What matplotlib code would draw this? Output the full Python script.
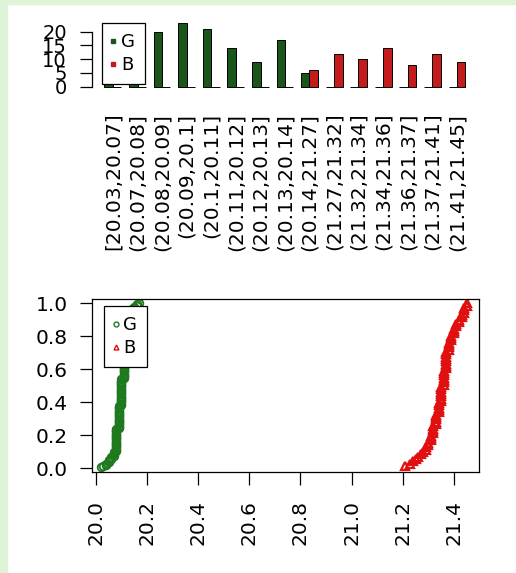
import numpy as np
import matplotlib
matplotlib.use("Agg")
import matplotlib.pyplot as plt
from matplotlib.lines import Line2D
from matplotlib.patches import Rectangle

# bin labels and counts per group (top barplot)
bins = ["[20.03,20.07]", "(20.07,20.08]", "(20.08,20.09]", "(20.09,20.1]",
        "(20.1,20.11]", "(20.11,20.12]", "(20.12,20.13]", "(20.13,20.14]",
        "(20.14,21.27]", "(21.27,21.32]", "(21.32,21.34]", "(21.34,21.36]",
        "(21.36,21.37]", "(21.37,21.41]", "(21.41,21.45]"]
g_counts = [14, 20, 20, 23, 21, 14, 9, 17, 5, 0, 0, 0, 0, 0, 0]
b_counts = [0, 0, 0, 0, 0, 0, 0, 0, 6, 12, 10, 14, 8, 12, 9]

# observed values (frequency tables) for the ecdf panel
g_vals = [20.02, 20.03, 20.04, 20.05, 20.06, 20.07, 20.08, 20.09, 20.10,
          20.11, 20.12, 20.13, 20.14, 20.15, 20.16, 20.17]
g_freq = [1, 1, 2, 3, 3, 4, 20, 20, 23, 21, 14, 9, 17, 2, 2, 1]
b_vals = [21.21, 21.23, 21.24, 21.25, 21.26, 21.27, 21.28, 21.29, 21.30,
          21.31, 21.32, 21.33, 21.34, 21.35, 21.36, 21.37, 21.38, 21.39,
          21.40, 21.41, 21.42, 21.43, 21.44, 21.45]
b_freq = [1, 1, 1, 1, 1, 1, 1, 2, 2, 3, 4, 5, 5, 7, 7, 8, 4, 3, 3, 2, 2, 2, 3, 2]

x_ticks = [20.0, 20.2, 20.4, 20.6, 20.8, 21.0, 21.2, 21.4]
y_ticks = [0.0, 0.2, 0.4, 0.6, 0.8, 1.0]

green_bar = "#1a561a"
red_bar = "#c41c1c"
green_pt = "#1f7a1f"
red_pt = "#e01010"
W, H = 516, 573

plt.rcParams['font.family'] = ['DejaVu Sans']

fig = plt.figure(figsize=(W / 100, H / 100), dpi=100)
# light green page border (left and top)
fig.patches.append(Rectangle((0, 0), 7 / W, 1, transform=fig.transFigure,
                             color="#ddf4d6", zorder=0))
fig.patches.append(Rectangle((0, 1 - 4 / H), 1, 4 / H, transform=fig.transFigure,
                             color="#ddf4d6", zorder=0))

# ---- top: side by side barplot
ax1 = fig.add_axes([92 / W, 1 - 86.7 / H, 388 / W, 63.7 / H])
grp = np.arange(len(bins)) * 3 + 2
ax1.bar(grp - 0.5, g_counts, width=1.05, color=green_bar, edgecolor="black",
        linewidth=0.7, clip_on=False)
ax1.bar(grp + 0.5, b_counts, width=1.05, color=red_bar, edgecolor="black",
        linewidth=0.7, clip_on=False)
ax1.set_xlim(-0.54, 46.8)
ax1.set_ylim(0, 23.16)
for s in ["top", "right", "bottom"]:
    ax1.spines[s].set_visible(False)
ax1.spines["left"].set_bounds(0, 20)
ax1.spines["left"].set_linewidth(0.9)
ax1.set_yticks([0, 5, 10, 15, 20])
ax1.tick_params(axis="y", length=8.6, width=0.9, pad=9.5, labelsize=14)
ax1.set_xticks(grp)
ax1.set_xticklabels(bins, rotation=90)
ax1.tick_params(axis="x", length=0, pad=18.7, labelsize=14.5)

h1 = [Line2D([], [], ls="none", marker="s", ms=3.5, color=green_bar),
      Line2D([], [], ls="none", marker="s", ms=3.5, color=red_bar)]
leg1 = ax1.legend(h1, ["G", "B"], loc="upper left", bbox_to_anchor=(0.026, 1.0),
                  borderaxespad=0, fontsize=13, handlelength=0.15,
                  handletextpad=0.35, labelspacing=0.3, borderpad=0.55,
                  fancybox=False, edgecolor="black", framealpha=1)
leg1.get_frame().set_linewidth(0.9)

# ---- bottom: empirical cdf
ax2 = fig.add_axes([91.7 / W, 1 - 471.7 / H, 387.3 / W, 172.4 / H])
g = np.sort(np.repeat(g_vals, g_freq))
b = np.sort(np.repeat(b_vals, b_freq))
ax2.plot(g, np.arange(1, len(g) + 1) / len(g), ls="none", marker="o",
         mfc="none", mec=green_pt, ms=5.5, mew=1.3)
ax2.plot(b, np.arange(1, len(b) + 1) / len(b), ls="none", marker="^",
         mfc="none", mec=red_pt, ms=6, mew=1.6)
ax2.set_xlim(19.984, 21.498)
ax2.set_ylim(-0.021, 1.024)
ax2.set_xticks(x_ticks)
ax2.set_xticklabels([f"{v:.1f}" for v in x_ticks], rotation=90)
ax2.set_yticks(y_ticks)
ax2.set_yticklabels([f"{v:.1f}" for v in y_ticks])
ax2.tick_params(axis="x", length=9.4, width=0.9, pad=10.8, labelsize=14.5)
ax2.tick_params(axis="y", length=8.6, width=0.9, pad=8.4, labelsize=14.5)
for s in ax2.spines.values():
    s.set_linewidth(0.9)

h2 = [Line2D([], [], ls="none", marker="o", ms=3.5, mfc="none", mec=green_pt),
      Line2D([], [], ls="none", marker="^", ms=3.5, mfc="none", mec=red_pt)]
leg2 = ax2.legend(h2, ["G", "B"], loc="upper left", bbox_to_anchor=(0.0325, 0.961),
                  borderaxespad=0, fontsize=13, handlelength=0.15,
                  handletextpad=0.35, labelspacing=0.3, borderpad=0.55,
                  fancybox=False, edgecolor="black", framealpha=1)
leg2.get_frame().set_linewidth(0.9)

fig.savefig("out.png", dpi=100)
